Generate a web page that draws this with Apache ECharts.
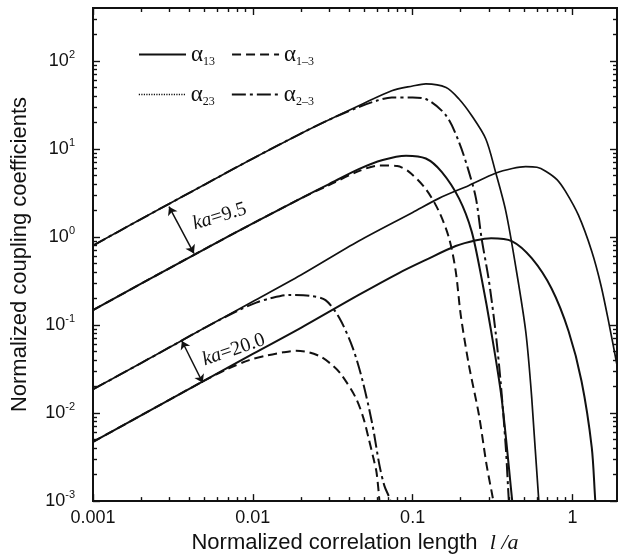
<!DOCTYPE html>
<html>
<head>
<meta charset="utf-8">
<script src="https://cdn.jsdelivr.net/npm/echarts@6/dist/echarts.min.js"></script>
<style>html,body{margin:0;padding:0;background:#fff;}#c{width:620px;height:559px;}</style>
</head>
<body>
<div id="c"></div>
<script>
// ---------- data ----------
// ka = 9.5
const a23_95_x = [0.001, 0.002, 0.005, 0.01, 0.02, 0.03, 0.046, 0.074, 0.1, 0.121, 0.162, 0.195, 0.234, 0.287, 0.33, 0.383, 0.44, 0.51, 0.556, 0.616, 0.65];
const a23_95_y = [0.8, 1.6, 3.95, 7.8, 15, 21.5, 31, 46, 52, 55, 50, 37, 24, 13, 5.5, 1.96, 0.48, 0.085, 0.015, 0.001, 0.0004];
const a13_95_x = [0.001, 0.002, 0.005, 0.01, 0.02, 0.03, 0.046, 0.065, 0.091, 0.121, 0.152, 0.195, 0.234, 0.27, 0.31, 0.36, 0.42, 0.45];
const a13_95_y = [0.148, 0.295, 0.73, 1.43, 2.75, 4.0, 5.9, 7.5, 8.4, 7.8, 5.5, 2.75, 1.16, 0.34, 0.085, 0.015, 0.001, 0.0003];
const a2m3_95_x = [0.001, 0.002, 0.005, 0.01, 0.02, 0.03, 0.046, 0.06, 0.074, 0.1, 0.121, 0.162, 0.195, 0.225, 0.249, 0.27, 0.3, 0.33, 0.355, 0.383, 0.40, 0.42];
const a2m3_95_y = [0.8, 1.6, 3.95, 7.8, 15, 21.5, 30, 35.5, 38.5, 38.5, 37, 24, 12, 5.5, 2.75, 0.97, 0.32, 0.085, 0.023, 0.004, 0.001, 0.0003];
const a1m3_95_x = [0.001, 0.002, 0.005, 0.01, 0.02, 0.03, 0.046, 0.062, 0.08, 0.095, 0.121, 0.146, 0.169, 0.186, 0.2, 0.225, 0.26, 0.29, 0.32, 0.34];
const a1m3_95_y = [0.148, 0.295, 0.73, 1.43, 2.75, 3.9, 5.6, 6.5, 6.4, 5.5, 3.5, 1.96, 0.97, 0.41, 0.13, 0.035, 0.0095, 0.0026, 0.001, 0.0005];
// ka = 20.0
const a23_20_x = [0.001, 0.002, 0.005, 0.01, 0.02, 0.046, 0.1, 0.146, 0.225, 0.33, 0.42, 0.51, 0.6, 0.68, 0.8, 0.905, 1.09, 1.32, 1.51, 1.7, 1.9];
const a23_20_y = [0.0186, 0.037, 0.093, 0.185, 0.37, 0.9, 1.9, 2.75, 3.86, 5.3, 6.0, 6.3, 6.2, 5.6, 4.5, 3.3, 1.77, 0.69, 0.28, 0.1, 0.035];
const a13_20_x = [0.001, 0.002, 0.005, 0.01, 0.02, 0.046, 0.082, 0.121, 0.186, 0.25, 0.31, 0.417, 0.556, 0.74, 0.946, 1.14, 1.32, 1.39, 1.45];
const a13_20_y = [0.0047, 0.0094, 0.0235, 0.047, 0.093, 0.22, 0.39, 0.55, 0.79, 0.92, 0.97, 0.9, 0.575, 0.26, 0.085, 0.023, 0.0041, 0.001, 0.0004];
const a2m3_20_x = [0.001, 0.002, 0.005, 0.008, 0.0105, 0.0127, 0.017, 0.0226, 0.0285, 0.0348, 0.0422, 0.0486, 0.056, 0.0619, 0.0665, 0.0726, 0.075];
const a2m3_20_y = [0.0186, 0.037, 0.093, 0.145, 0.18, 0.2, 0.22, 0.215, 0.192, 0.12, 0.055, 0.0233, 0.0074, 0.0026, 0.0015, 0.001, 0.0005];
const a1m3_20_x = [0.001, 0.002, 0.005, 0.007, 0.0095, 0.0122, 0.0155, 0.0187, 0.0225, 0.027, 0.032, 0.036, 0.044, 0.049, 0.053, 0.057, 0.0595, 0.062, 0.064];
const a1m3_20_y = [0.0047, 0.0094, 0.0235, 0.032, 0.04, 0.045, 0.049, 0.051, 0.049, 0.043, 0.034, 0.027, 0.015, 0.009, 0.0052, 0.003, 0.0021, 0.001, 0.0005];

// axes
const xTickValues = [0.001, 0.01, 0.1, 1];
const xTickLabels = ['0.001', '0.01', '0.1', '1'];
const yTickValues = [0.001, 0.01, 0.1, 1, 10, 100];
const yTickExponents = ['-3', '-2', '-1', '0', '1', '2'];
const xRange = [0.001, 1.9];
const yRange = [0.001, 400];

// annotations: arrow ends [x1, y1, x2, y2] and label anchor [x, y]
const arrow95 = [0.00299, 2.21, 0.00428, 0.652];
const arrow20 = [0.0036, 0.0659, 0.00486, 0.0221];
const label95 = [0.0062, 1.71];
const label20 = [0.0076, 0.0522];
const labelTexts = ['ka=9.5', 'ka=20.0'];

const legendNames = ['α13', 'α1-3', 'α23', 'α2-3'];
const legendRich = {'α13': '{a|α}{s|13}', 'α1-3': '{a|α}{s|1–3}', 'α23': '{a|α}{s|23}', 'α2-3': '{a|α}{s|2–3}'};

// ---------- build ----------
const SANS = "'Liberation Sans', Arial, Helvetica, sans-serif";
const SERIF = "'Liberation Serif', 'Times New Roman', serif";
const INK = '#111';

function pairs(xs, ys) { return xs.map((x, i) => [x, ys[i]]); }

// minor tick positions (2..9 x 10^k) inside each range
function minorTicks(range) {
  const out = [];
  const e0 = Math.floor(Math.log10(range[0]) + 1e-9), e1 = Math.ceil(Math.log10(range[1]));
  for (let e = e0; e <= e1; e++) {
    for (let m = 2; m <= 9; m++) {
      const v = +(m * Math.pow(10, e)).toPrecision(6);
      if (v > range[0] && v < range[1] * 0.999) out.push(v);
    }
  }
  return out;
}
// tick marks are drawn by linear helper axes that span the same decades (exponent space)
const lg = arr => arr.map(v => Math.log10(v));
const xMinor = lg(minorTicks(xRange));
const yMinor = lg(minorTicks(yRange));
const xMajor = lg(xTickValues);
const yMajor = lg(yTickValues);

const styles = {
  'α13': { color: INK, width: 2, type: 'solid' },
  'α23': { color: INK, width: 1.7, type: 'solid' },
  'α1-3': { color: INK, width: 2, type: [9, 5] },
  'α2-3': { color: INK, width: 2, type: [14, 4, 3, 4] }
};

function lineSeries(name, xs, ys, extra) {
  return Object.assign({
    name: name, type: 'line', data: pairs(xs, ys),
    showSymbol: false, symbol: 'circle', symbolSize: 0,
    smooth: 0.3, clip: true, silent: true,
    lineStyle: styles[name], itemStyle: { color: INK },
    emphasis: { disabled: true }
  }, extra || {});
}

function pow10Index(v, list) {
  for (let i = 0; i < list.length; i++) {
    if (Math.abs(Math.log10(v) - Math.log10(list[i])) < 1e-6) return i;
  }
  return -1;
}

const annoLabel = (txt, coord, rot) => ({
  coord: coord, value: txt,
  symbol: 'circle', symbolSize: 1, itemStyle: { color: 'rgba(0,0,0,0)' },
  label: {
    show: true, position: 'inside', rotate: rot,
    formatter: '{i|ka}{n|' + txt.slice(2) + '}',
    rich: {
      i: { fontFamily: SERIF, fontStyle: 'italic', fontSize: 20, color: INK },
      n: { fontFamily: SERIF, fontSize: 20, color: INK }
    }
  }
});

const series = [
  lineSeries('α13', a13_95_x, a13_95_y, {
    markLine: {
      silent: true, animation: false, symbol: ['arrow', 'arrow'], symbolSize: 8,
      lineStyle: { color: INK, width: 1.5, type: 'solid' }, label: { show: false },
      emphasis: { disabled: true },
      data: [
        [{ coord: [arrow95[0], arrow95[1]] }, { coord: [arrow95[2], arrow95[3]] }],
        [{ coord: [arrow20[0], arrow20[1]] }, { coord: [arrow20[2], arrow20[3]] }]
      ]
    },
    markPoint: {
      silent: true, animation: false,
      data: [annoLabel(labelTexts[0], label95, 17), annoLabel(labelTexts[1], label20, 19)]
    }
  }),
  lineSeries('α23', a23_95_x, a23_95_y),
  lineSeries('α13', a13_20_x, a13_20_y),
  lineSeries('α23', a23_20_x, a23_20_y),
  lineSeries('α1-3', a1m3_95_x, a1m3_95_y),
  lineSeries('α2-3', a2m3_95_x, a2m3_95_y),
  lineSeries('α1-3', a1m3_20_x, a1m3_20_y),
  lineSeries('α2-3', a2m3_20_x, a2m3_20_y)
];

function legendItem(name) {
  const it = { name: name };
  if (name === 'α23') it.lineStyle = { type: [1.2, 1.3], width: 1.6 };
  return it;
}

function legendAt(names, topPx) {
  return {
    data: names.map(legendItem), left: 138, top: topPx, orient: 'horizontal', padding: 0,
    itemWidth: 47, itemHeight: 14, itemGap: 16, selectedMode: false,
    itemStyle: { opacity: 0, borderWidth: 0 },
    formatter: n => legendRich[n],
    textStyle: {
      width: 32, color: INK, fontFamily: SERIF, fontSize: 22,
      rich: {
        a: { fontFamily: SERIF, fontSize: 23, color: INK },
        s: { fontFamily: SERIF, fontSize: 12, color: INK, padding: [15, 0, 0, 0] }
      }
    }
  };
}

// linear helper axes in exponent space, used only to draw inward tick marks on the frame.
// Each one sits "on zero" of a hidden reference axis whose zero lies on the wanted frame edge.
function tickAxis(pos, range, values, len, zeroRef) {
  return {
    type: 'value', min: Math.log10(range[0]), max: Math.log10(range[1]), position: pos,
    axisLine: { show: false, onZero: true, onZeroAxisIndex: zeroRef },
    splitLine: { show: false }, axisLabel: { show: false },
    axisTick: { show: true, inside: true, length: len, customValues: values, lineStyle: { color: INK, width: 1.4 } },
    silent: true, z: 10
  };
}
function refAxis(lo, hi) {
  return {
    type: 'value', min: lo, max: hi, show: false,
    axisLine: { show: false, onZero: false }, axisTick: { show: false }, axisLabel: { show: false }, splitLine: { show: false }
  };
}
// reference axis indices
const X_ZERO_LEFT = 5, X_ZERO_RIGHT = 6, Y_ZERO_BOTTOM = 5, Y_ZERO_TOP = 6;

const option = {
  animation: false,
  backgroundColor: '#fff',
  grid: { left: 93, right: 2, top: 8, bottom: 55, show: true, borderColor: INK, borderWidth: 2, containLabel: false },
  legend: [legendAt([legendNames[0], legendNames[1]], 43), legendAt([legendNames[2], legendNames[3]], 83)],
  xAxis: [{
    type: 'log', logBase: 10, min: xRange[0], max: xRange[1], splitNumber: 10, position: 'bottom',
    axisLine: { show: false, onZero: false }, splitLine: { show: false }, axisTick: { show: false },
    axisLabel: {
      margin: 8, fontFamily: SANS, fontSize: 18, color: INK,
      formatter: v => { const i = pow10Index(v, xTickValues); return i >= 0 ? xTickLabels[i] : ''; }
    },
    name: '{n|Normalized correlation length}  {i|l /a}',
    nameLocation: 'middle', nameGap: 25,
    nameTextStyle: {
      fontFamily: SANS, fontSize: 22, color: INK,
      rich: {
        n: { fontFamily: SANS, fontSize: 22, color: INK },
        i: { fontFamily: SERIF, fontStyle: 'italic', fontSize: 22, color: INK }
      }
    }
  },
  tickAxis('bottom', xRange, xMinor, 4, Y_ZERO_BOTTOM),
  tickAxis('bottom', xRange, xMajor, 7, Y_ZERO_BOTTOM),
  tickAxis('top', xRange, xMinor, 4, Y_ZERO_TOP),
  tickAxis('top', xRange, xMajor, 7, Y_ZERO_TOP),
  refAxis(0, 1),
  refAxis(-1, 0)],
  yAxis: [{
    type: 'log', logBase: 10, min: yRange[0], max: yRange[1], splitNumber: 10, position: 'left',
    axisLine: { show: false, onZero: false }, splitLine: { show: false }, axisTick: { show: false },
    axisLabel: {
      margin: 18, fontFamily: SANS, fontSize: 18, color: INK,
      formatter: v => { const i = pow10Index(v, yTickValues); return i >= 0 ? '10{e|' + yTickExponents[i] + '}' : ''; },
      rich: { e: { fontFamily: SANS, fontSize: 11, color: INK, padding: [0, 0, 12, 0] } }
    },
    name: 'Normalized coupling coefficients',
    nameLocation: 'middle', nameGap: 62,
    nameTextStyle: { fontFamily: SANS, fontSize: 22, color: INK }
  },
  tickAxis('left', yRange, yMinor, 4, X_ZERO_LEFT),
  tickAxis('left', yRange, yMajor, 7, X_ZERO_LEFT),
  tickAxis('right', yRange, yMinor, 4, X_ZERO_RIGHT),
  tickAxis('right', yRange, yMajor, 7, X_ZERO_RIGHT),
  refAxis(0, 1),
  refAxis(-1, 0)],
  series: series
};

const chart = echarts.init(document.getElementById('c'), null, { renderer: 'canvas' });
chart.setOption(option);
</script>
</body>
</html>
